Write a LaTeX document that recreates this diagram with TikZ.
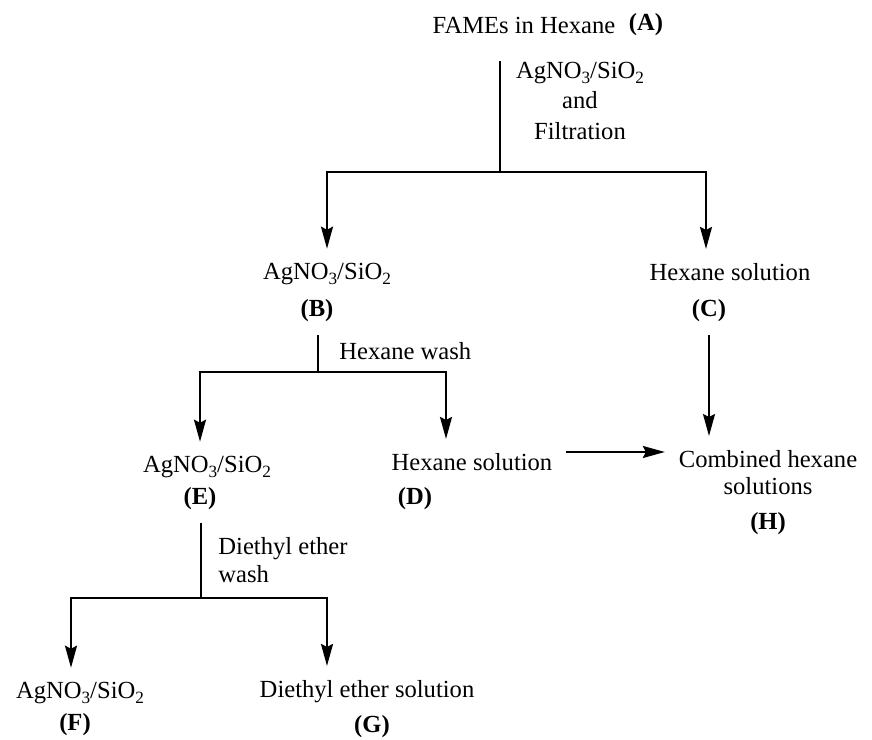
\documentclass[tikz,border=0pt]{standalone}
\usepackage{fontspec}
\setmainfont{Liberation Serif}
\usepackage{tikz}
\usetikzlibrary{arrows.meta}
\usetikzlibrary{positioning}
\usetikzlibrary{calc}

\tikzset{
  txt/.style={inner sep=0pt, outer sep=7pt, anchor=base, font=\fontsize{12.3}{14.5}\selectfont},
  tag/.style={txt, font=\fontsize{12.3}{14.5}\selectfont\bfseries},
  note/.style={inner sep=0pt, font=\fontsize{12.3}{14.5}\selectfont},
  link/.style={line width=1pt},
  flow/.style={link, -{Stealth[length=11pt,width=6pt,inset=1.5pt]}},
}
\newcommand{\sbs}[1]{\raisebox{-0.45ex}{\fontsize{8.6}{9}\selectfont #1}}
\newcommand{\agsi}{AgNO\sbs{3}/SiO\sbs{2}}

\begin{document}
\begin{tikzpicture}[x=0.5pt,y=-0.5pt]
          \useasboundingbox (0,0) rectangle (872,739);

          % starting solution
          \node[txt] (A) at (524,33) {FAMEs in Hexane};
          \node[tag] (Atag) at (646,31) {(A)};
          \node[note, align=center, anchor=north] (rA) at (580,62) {\agsi\\[0.6pt]and\\[0.6pt]Filtration};
          \coordinate (sA) at (500,172);

          \node[txt] (B) at (327,279) {\agsi};
          \node[tag] (Btag) at (317,316) {(B)};
          \node[txt] (C) at (730,280) {Hexane solution};
          \node[tag] (Ctag) at (709,316) {(C)};

          \draw[link] ([yshift=-7pt]A.south -| sA) -- (sA);
          \draw[flow] (sA) -| (B);
          \draw[flow] (sA) -| ([xshift=-12pt]C.north);

          % hexane wash
          \node[note, anchor=base west] (rB) at (339,359) {Hexane wash};
          \coordinate (sB) at (318,372);

          \node[txt] (E) at (207,472) {\agsi};
          \node[tag] (Etag) at (200,504) {(E)};
          \node[txt] (D) at (472,470) {Hexane solution};
          \node[tag] (Dtag) at (415,504) {(D)};

          \draw[link] (Btag.south -| sB) -- (sB);
          \draw[flow] (sB) -| ([xshift=-3.5pt]E.north);
          \draw[flow] (sB) -| ([xshift=-13pt]D.north);

          % combined
          \node[txt, align=center, anchor=north] (H) at (768,436) {Combined hexane\\[-1pt]solutions};
          \node[tag] (Htag) at (768,529) {(H)};

          \draw[flow] (Ctag) -- (Ctag |- H.north);
          \draw[flow] ([yshift=4.8pt]D.east) -- ([yshift=4.8pt]D.east -| H.west);

          % diethyl ether wash
          \node[note, align=left, anchor=north west] (rE) at (218,537) {Diethyl ether\\[-0.5pt]wash};
          \coordinate (sE) at (201,598);

          \node[txt] (F) at (80,698) {\agsi};
          \node[tag] (Ftag) at (75,730) {(F)};
          \node[txt] (G) at (367,697) {Diethyl ether solution};
          \node[tag] (Gtag) at (372,732) {(G)};

          \draw[link] (Etag.south -| sE) -- (sE);
          \draw[flow] (sE) -| ([xshift=-4.5pt]F.north);
          \draw[flow] (sE) -| ([xshift=-20pt]G.north);

    \end{tikzpicture}
\end{document}
